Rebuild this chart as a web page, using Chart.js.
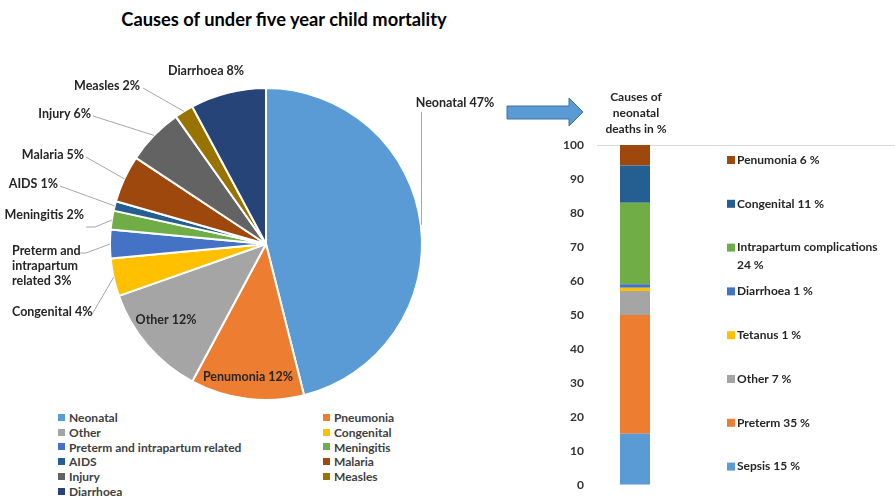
<!DOCTYPE html>
<html>
<head>
<meta charset="utf-8">
<script src="https://cdn.jsdelivr.net/npm/chart.js@4/dist/chart.umd.min.js"></script>
<style>
  body { margin:0; width:895px; height:497px; overflow:hidden; background:#fff; position:relative;
         font-family: Lato, "Open Sans", "Liberation Sans", sans-serif; }
  #pieCanvas { position:absolute; left:0; top:0; }
  #barCanvas { position:absolute; left:540px; top:0; }
  #title { position:absolute; left:0; width:568px; top:8px; text-align:center; font-weight:bold;
           font-size:18.3px; color:#000; }
  #barTitle { position:absolute; left:586px; width:100px; top:89px; text-align:center; font-weight:bold;
              font-size:12px; line-height:16px; color:#262626; }
  #legend { position:absolute; left:58px; top:410px; display:grid; grid-template-columns:265px 200px; }
  .item { height:14.8px; font-size:12px; font-weight:bold; color:#404040; display:flex; align-items:center; }
  .sw { width:7px; height:7px; margin-right:4px; flex:none; }
  #arrow { position:absolute; left:500px; top:90px; }
</style>
</head>
<body>
<div id="title">Causes of under five year child mortality</div>
<canvas id="pieCanvas" width="540" height="410"></canvas>
<div id="legend"></div>
<svg id="arrow" width="90" height="45">
  <path d="M7 16 H69 V8 L83 22 L69 36 V29 H7 Z" fill="#5B9BD5" stroke="#41719C" stroke-width="1"/>
</svg>
<div id="barTitle">Causes of<br>neonatal<br>deaths in %</div>
<canvas id="barCanvas" width="355" height="497"></canvas>

<script>
// Under-five mortality causes (pie)
const causes = ['Neonatal', 'Pneumonia', 'Other', 'Congenital', 'Preterm and intrapartum related',
                'Meningitis', 'AIDS', 'Malaria', 'Injury', 'Measles', 'Diarrhoea'];
const causeShares = [47, 12, 12, 4, 3, 2, 1, 5, 6, 2, 8];
const causeCaptions = ['Neonatal', 'Penumonia', 'Other', 'Congenital', 'Preterm and\nintrapartum\nrelated',
                       'Meningitis', 'AIDS', 'Malaria', 'Injury', 'Measles', 'Diarrhoea'];
const causeColors = ['#5B9BD5', '#ED7D31', '#A5A5A5', '#FFC000', '#4472C4', '#70AD47',
                     '#255E91', '#9E480E', '#636363', '#997300', '#264478'];

// Neonatal death causes (stacked bar, bottom to top)
const neonatalCauses = ['Sepsis', 'Preterm', 'Other', 'Tetanus', 'Diarrhoea',
                        'Intrapartum complications', 'Congenital', 'Penumonia'];
const neonatalShares = [15, 35, 7, 1, 1, 24, 11, 6];
const neonatalColors = ['#5B9BD5', '#ED7D31', '#A5A5A5', '#FFC000', '#4472C4', '#70AD47', '#255E91', '#9E480E'];
const yTicks = [0, 10, 20, 30, 40, 50, 60, 70, 80, 90, 100];

// Legend below the pie
const legendEl = document.getElementById('legend');
causes.forEach((c, i) => {
  const d = document.createElement('div');
  d.className = 'item';
  d.innerHTML = '<span class="sw" style="background:' + causeColors[i] + '"></span>' + c;
  legendEl.appendChild(d);
});

// Where each slice's data label sits, and the leader line's start (label side).
// 'vertical' drops the line straight down from the label to the slice edge.
const labelLayout = [
  { x:455, y:103, align:'center', vertical:112 },
  { x:248, y:377, align:'center' },
  { x:166, y:320, align:'center' },
  { x:12,  y:312, align:'left',  line:[[91,316]] },
  { x:12,  y:251, align:'left',  line:[[79,253],[86,253]] },
  { x:84,  y:215, align:'right', line:[[86,227],[95,227]] },
  { x:58,  y:184, align:'right', line:[[60,186]] },
  { x:84,  y:155, align:'right', line:[[86,157]] },
  { x:91,  y:114, align:'right', line:[[93,116]] },
  { x:140, y:86,  align:'right', line:[[143,88]] },
  { x:206, y:71,  align:'center' }
];

const pieLabels = {
  id: 'pieLabels',
  afterDatasetsDraw(chart) {
    const ctx = chart.ctx;
    const meta = chart.getDatasetMeta(0);
    const values = chart.data.datasets[0].data;
    ctx.save();
    meta.data.forEach((arc, i) => {
      const L = labelLayout[i];
      const p = arc.getProps(['x','y','startAngle','endAngle','outerRadius'], true);
      const mid = (p.startAngle + p.endAngle) / 2;
      const ex = p.x + Math.cos(mid) * p.outerRadius;
      const ey = p.y + Math.sin(mid) * p.outerRadius;
      ctx.strokeStyle = '#A6A6A6';
      ctx.lineWidth = 1;
      if (L.line) {
        ctx.beginPath();
        ctx.moveTo(L.line[0][0], L.line[0][1]);
        for (let k = 1; k < L.line.length; k++) ctx.lineTo(L.line[k][0], L.line[k][1]);
        ctx.lineTo(ex, ey);
        ctx.stroke();
      } else if (L.vertical) {
        const vx = Math.round(ex) + 0.5;
        ctx.beginPath();
        ctx.moveTo(vx, L.vertical);
        ctx.lineTo(vx, ey);
        ctx.stroke();
      }
      const lines = (causeCaptions[i] + ' ' + values[i] + '%').split('\n');
      ctx.font = 'bold 12.5px Lato, "Open Sans", sans-serif';
      ctx.fillStyle = '#262626';
      ctx.textAlign = L.align;
      ctx.textBaseline = 'middle';
      lines.forEach((t, k) => ctx.fillText(t, L.x, L.y + k * 15));
    });
    ctx.restore();
  }
};

new Chart(document.getElementById('pieCanvas'), {
  type: 'pie',
  data: {
    labels: causes,
    datasets: [{ data: causeShares, backgroundColor: causeColors, borderColor: '#fff',
                 borderWidth: 2, hoverOffset: 0 }]
  },
  options: {
    responsive: false,
    animation: false,
    layout: { padding: { left:109, right:117, top:87, bottom:9 } },
    plugins: { legend: { display:false }, tooltip: { enabled:false } }
  },
  plugins: [pieLabels]
});

// Top reference line and right-hand legend for the stacked bar
const barExtras = {
  id: 'barExtras',
  beforeDatasetsDraw(chart) {
    const ctx = chart.ctx;
    const y = Math.round(chart.scales.y.getPixelForValue(100)) + 0.5;
    ctx.save();
    ctx.strokeStyle = '#D9D9D9';
    ctx.lineWidth = 1;
    ctx.beginPath();
    ctx.moveTo(chart.chartArea.left, y);
    ctx.lineTo(chart.width, y);
    ctx.stroke();
    ctx.restore();
  },
  afterDraw(chart) {
    const ctx = chart.ctx;
    const ds = chart.data.datasets.slice().reverse();
    const mx = 187, tx = 197, maxW = chart.width - tx - 2;
    ctx.save();
    ctx.font = 'bold 12px Lato, "Open Sans", sans-serif';
    ctx.textBaseline = 'middle';
    ctx.textAlign = 'left';
    ds.forEach((d, k) => {
      const y = 160 + k * 43.8;
      ctx.fillStyle = d.backgroundColor;
      ctx.fillRect(mx, y - 4, 8, 8);
      ctx.fillStyle = '#262626';
      const text = d.label + ' ' + d.data[0] + ' %';
      const words = text.split(' ');
      let line = '', row = 0;
      words.forEach(w => {
        const test = line ? line + ' ' + w : w;
        if (ctx.measureText(test).width > maxW && line) {
          ctx.fillText(line, tx, y + row * 18);
          line = w; row++;
        } else line = test;
      });
      ctx.fillText(line, tx, y + row * 18);
    });
    ctx.restore();
  }
};

new Chart(document.getElementById('barCanvas'), {
  type: 'bar',
  data: {
    labels: [''],
    datasets: neonatalCauses.map((c, i) => ({
      label: c, data: [neonatalShares[i]], backgroundColor: neonatalColors[i],
      barPercentage: 0.395, categoryPercentage: 1
    }))
  },
  options: {
    responsive: false,
    animation: false,
    layout: { padding: { top:145, bottom:2, left:0, right:222 } },
    scales: {
      x: { stacked: true, display: false },
      y: {
        stacked: true, min: 0, max: 100,
        afterBuildTicks(s) { s.ticks = yTicks.map(v => ({ value: v })); },
        afterFit(s) { s.width = 57; },
        ticks: { padding: 5, color: '#333333', font: { family: 'Lato, "Open Sans", sans-serif', size: 12, weight: 'bold' } },
        grid: { display: false },
        border: { display: false }
      }
    },
    plugins: { legend: { display:false }, tooltip: { enabled:false } }
  },
  plugins: [barExtras]
});
</script>
</body>
</html>
